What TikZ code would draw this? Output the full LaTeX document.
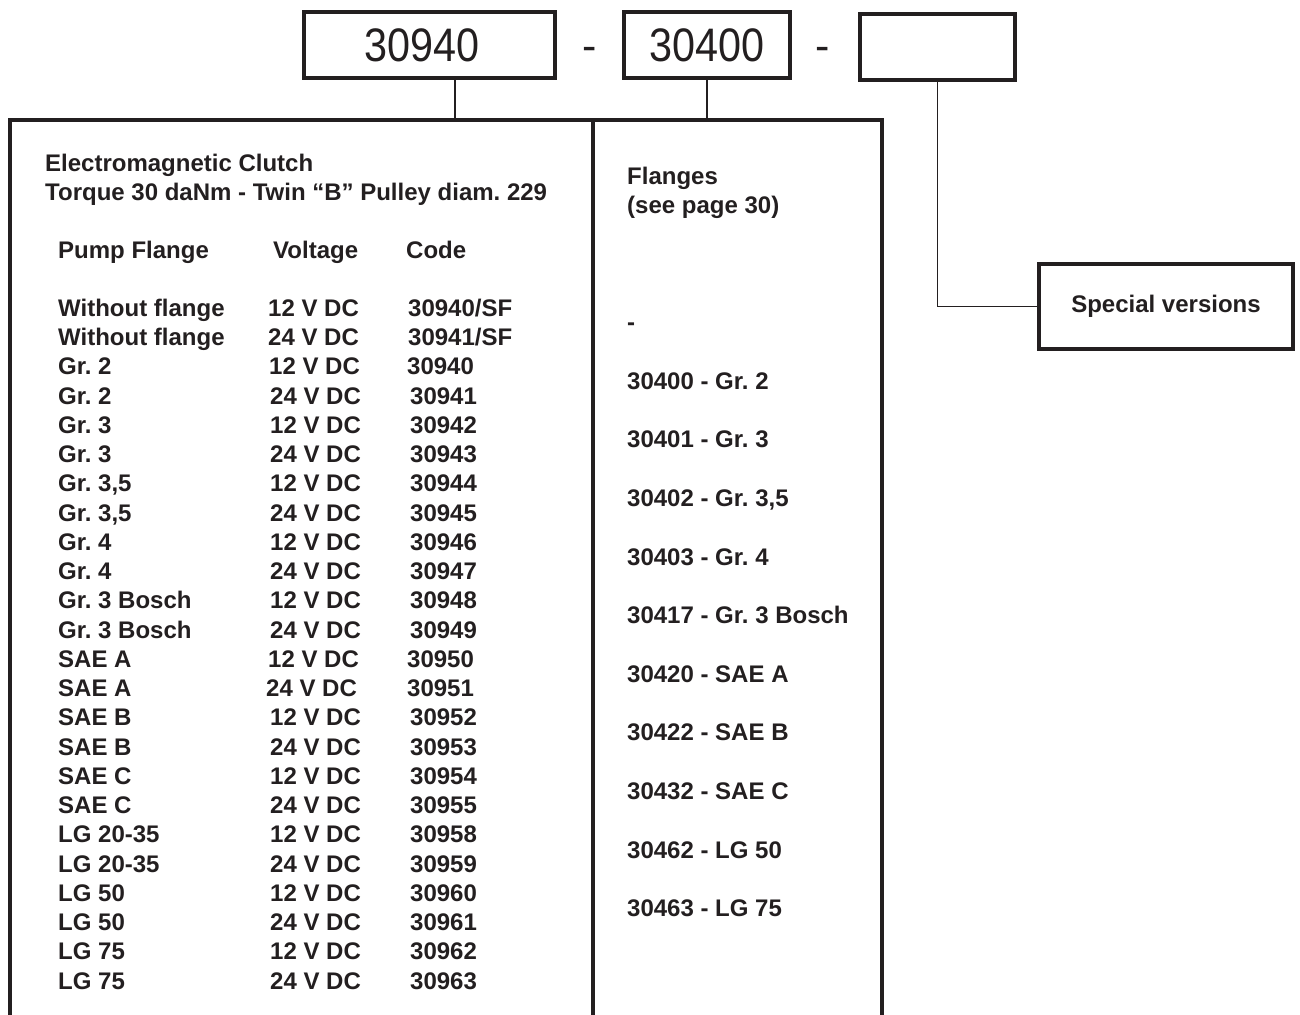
\documentclass[tikz,border=0pt]{standalone}
\usepackage{fontspec}
\setmainfont{Liberation Sans}
\newfontfamily\boxfont[FakeStretch=0.88]{Liberation Sans}
\frenchspacing
\definecolor{ink}{HTML}{231F20}
\tikzset{
  codebox/.style={draw=ink, line width=4pt, minimum height=66pt, inner sep=0pt,
    text=ink, font=\boxfont\fontsize{47}{47}\selectfont},
  sep/.style={anchor=base, inner sep=0pt, text=ink, font=\fontsize{43}{43}\selectfont},
  frame/.style={draw=ink, line width=4pt},
  wire/.style={draw=ink, line width=1.6pt},
  txt/.style={anchor=base west, inner sep=0pt, text=ink, font=\bfseries\fontsize{24}{24}\selectfont}
}
\begin{document}
\begin{tikzpicture}[x=1pt,y=-1pt]
\useasboundingbox (0,0) rectangle (1300,1014);
% code boxes
\node[codebox, minimum width=251pt] (code1) at (429.5,45) {30940\kern15pt};
\node[sep] (dash1) at (590,61) {-};
\node[codebox, minimum width=166pt] (code2) at (707,45) {30400};
\node[sep] (dash2) at (823,61) {-};
\node[codebox, minimum width=155pt] (code3) at (937.5,47) {};
\node[codebox, font=\bfseries\fontsize{24}{24}\selectfont, minimum width=254pt, minimum height=85pt] (special) at (1166,306.5) {Special versions};
% frame
\coordinate (topleft) at (10,120);
\coordinate (topmid) at (593,120);
\coordinate (topright) at (882,120);
\coordinate (c1) at (455,120);
\draw[frame] (10,1016) -- (topleft) -- (topright) -- (882,1016);
\draw[frame] (topmid) -- (593,1016);
% connectors
\draw[wire] (c1 |- code1.south) -- (c1);
\draw[wire] (code2.south) -- (code2.south |- topmid);
\draw[wire] (code3.south) |- (special.west);
% clutch column
\node[txt] (title1) at (45,171) {Electromagnetic Clutch};
\node[txt] (title2) at (45,200) {Torque 30 daNm - Twin “B” Pulley diam. 229};
\node[txt] (hflange) at (58,258) {Pump Flange};
\node[txt] (hvolt) at (273,258) {Voltage};
\node[txt] (hcode) at (406,258) {Code};
\node[txt] (f1) at (58,316) {Without flange};
\node[txt] (v1) at (268,316) {12 V DC};
\node[txt] (k1) at (408,316) {30940/SF};
\node[txt] (f2) at (58,345) {Without flange};
\node[txt] (v2) at (268,345) {24 V DC};
\node[txt] (k2) at (408,345) {30941/SF};
\node[txt] (f3) at (58,374.5) {Gr. 2};
\node[txt] (v3) at (269,374.5) {12 V DC};
\node[txt] (k3) at (407,374.5) {30940};
\node[txt] (f4) at (58,404) {Gr. 2};
\node[txt] (v4) at (270,404) {24 V DC};
\node[txt] (k4) at (410,404) {30941};
\node[txt] (f5) at (58,433) {Gr. 3};
\node[txt] (v5) at (270,433) {12 V DC};
\node[txt] (k5) at (410,433) {30942};
\node[txt] (f6) at (58,462) {Gr. 3};
\node[txt] (v6) at (270,462) {24 V DC};
\node[txt] (k6) at (410,462) {30943};
\node[txt] (f7) at (58,491.5) {Gr. 3,5};
\node[txt] (v7) at (270,491.5) {12 V DC};
\node[txt] (k7) at (410,491.5) {30944};
\node[txt] (f8) at (58,521) {Gr. 3,5};
\node[txt] (v8) at (270,521) {24 V DC};
\node[txt] (k8) at (410,521) {30945};
\node[txt] (f9) at (58,550) {Gr. 4};
\node[txt] (v9) at (270,550) {12 V DC};
\node[txt] (k9) at (410,550) {30946};
\node[txt] (f10) at (58,579.5) {Gr. 4};
\node[txt] (v10) at (270,579.5) {24 V DC};
\node[txt] (k10) at (410,579.5) {30947};
\node[txt] (f11) at (58,608.5) {Gr. 3 Bosch};
\node[txt] (v11) at (270,608.5) {12 V DC};
\node[txt] (k11) at (410,608.5) {30948};
\node[txt] (f12) at (58,638) {Gr. 3 Bosch};
\node[txt] (v12) at (270,638) {24 V DC};
\node[txt] (k12) at (410,638) {30949};
\node[txt] (f13) at (58,667) {SAE A};
\node[txt] (v13) at (268,667) {12 V DC};
\node[txt] (k13) at (407,667) {30950};
\node[txt] (f14) at (58,696.5) {SAE A};
\node[txt] (v14) at (266,696.5) {24 V DC};
\node[txt] (k14) at (407,696.5) {30951};
\node[txt] (f15) at (58,725.5) {SAE B};
\node[txt] (v15) at (270,725.5) {12 V DC};
\node[txt] (k15) at (410,725.5) {30952};
\node[txt] (f16) at (58,755) {SAE B};
\node[txt] (v16) at (270,755) {24 V DC};
\node[txt] (k16) at (410,755) {30953};
\node[txt] (f17) at (58,784) {SAE C};
\node[txt] (v17) at (270,784) {12 V DC};
\node[txt] (k17) at (410,784) {30954};
\node[txt] (f18) at (58,813.5) {SAE C};
\node[txt] (v18) at (270,813.5) {24 V DC};
\node[txt] (k18) at (410,813.5) {30955};
\node[txt] (f19) at (58,842.5) {LG 20-35};
\node[txt] (v19) at (270,842.5) {12 V DC};
\node[txt] (k19) at (410,842.5) {30958};
\node[txt] (f20) at (58,872) {LG 20-35};
\node[txt] (v20) at (270,872) {24 V DC};
\node[txt] (k20) at (410,872) {30959};
\node[txt] (f21) at (58,901) {LG 50};
\node[txt] (v21) at (270,901) {12 V DC};
\node[txt] (k21) at (410,901) {30960};
\node[txt] (f22) at (58,930.5) {LG 50};
\node[txt] (v22) at (270,930.5) {24 V DC};
\node[txt] (k22) at (410,930.5) {30961};
\node[txt] (f23) at (58,959.5) {LG 75};
\node[txt] (v23) at (270,959.5) {12 V DC};
\node[txt] (k23) at (410,959.5) {30962};
\node[txt] (f24) at (58,989) {LG 75};
\node[txt] (v24) at (270,989) {24 V DC};
\node[txt] (k24) at (410,989) {30963};
% flanges column
\node[txt] (ftitle1) at (627,184) {Flanges};
\node[txt] (ftitle2) at (627,213) {(see page 30)};
\node[txt] (fl0) at (627,330) {-};
\node[txt] (fl1) at (627,389) {30400 - Gr. 2};
\node[txt] (fl2) at (627,447.5) {30401 - Gr. 3};
\node[txt] (fl3) at (627,506) {30402 - Gr. 3,5};
\node[txt] (fl4) at (627,565) {30403 - Gr. 4};
\node[txt] (fl5) at (627,623.5) {30417 - Gr. 3 Bosch};
\node[txt] (fl6) at (627,682) {30420 - SAE A};
\node[txt] (fl7) at (627,740.5) {30422 - SAE B};
\node[txt] (fl8) at (627,799) {30432 - SAE C};
\node[txt] (fl9) at (627,858) {30462 - LG 50};
\node[txt] (fl10) at (627,916.5) {30463 - LG 75};
\end{tikzpicture}
\end{document}
